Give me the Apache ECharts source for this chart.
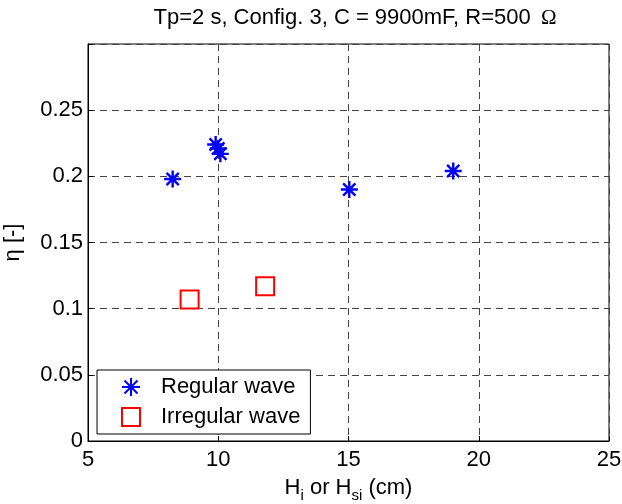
<!DOCTYPE html>
<html>
<head>
<meta charset="utf-8">
<script src="https://cdn.jsdelivr.net/npm/echarts@6/dist/echarts.min.js"></script>
<style>html,body{margin:0;padding:0;background:#fff}#c{width:622px;height:504px}</style>
</head>
<body>
<div id="c"></div>
<script>
const titleMain = 'Tp=2 s, Config. 3, C = 9900mF, R=500 ';
const titleUnit = 'Ω';
const seriesNames = ['Regular wave', 'Irregular wave'];
const regularX = [8.25, 9.9, 10.0, 10.08, 15.03, 19.02];
const regularY = [0.198, 0.224, 0.221, 0.217, 0.190, 0.204];
const irregularX = [8.9, 11.8];
const irregularY = [0.107, 0.117];
const xTicks = [5, 10, 15, 20, 25];
const yTicks = [0, 0.05, 0.1, 0.15, 0.2, 0.25];

const FONT = '"Liberation Sans", Arial, sans-serif';
const FS = 22;
const chart = echarts.init(document.getElementById('c'), null, {renderer: 'canvas'});
const star = 'path://M0,-1L0,1M-1,0L1,0M-0.72,-0.72L0.72,0.72M-0.72,0.72L0.72,-0.72';

chart.setOption({
  animation: false,
  backgroundColor: '#fff',
  textStyle: {fontFamily: FONT},
  title: {
    text: '{t|' + titleMain + '}{o|' + titleUnit + '}',
    left: 350, top: 2, textAlign: 'center',
    textStyle: {fontSize: 22, fontWeight: 'normal', color: '#000', fontFamily: FONT,
      rich: {
        t: {fontSize: 22, color: '#000', fontFamily: FONT},
        o: {fontSize: 21, color: '#000', fontFamily: '"Liberation Serif", "DejaVu Serif", serif', padding: [0, 0, 0, 4]}
      }}
  },
  grid: {left: 88, right: 13, top: 44, bottom: 63, outerBoundsMode: 'none', containLabel: false,
    show: true, borderColor: '#000', borderWidth: 1, backgroundColor: 'transparent'},
  legend: {
    orient: 'vertical', left: 97, top: 370,
    padding: [5, 10, 5, 24],
    itemWidth: 18, itemHeight: 18, itemGap: 6,
    borderColor: '#000', borderWidth: 1, backgroundColor: '#fff',
    data: seriesNames,
    formatter: n => '{a|' + n + '}',
    textStyle: {fontSize: FS, color: '#000', fontFamily: FONT, lineHeight: 24,
      rich: {a: {fontSize: FS, fontFamily: FONT, color: '#000', lineHeight: 24, padding: [0, 0, 0, 16]}}}
  },
  xAxis: {
    type: 'value', min: 5, max: 25, interval: 5,
    name: '{n|H}{s|i}{n| or H}{s|si}{n| (cm)}',
    nameLocation: 'middle', nameGap: 31,
    nameTextStyle: {rich: {
      n: {fontSize: FS, color: '#000', fontFamily: FONT},
      s: {fontSize: 15, color: '#000', fontFamily: FONT, verticalAlign: 'bottom', padding: [16, 0, 0, 0]}
    }},
    axisLine: {show: true, lineStyle: {color: '#000', width: 1}},
    axisTick: {show: true, inside: true, length: 5, lineStyle: {color: '#000'}},
    axisLabel: {fontSize: FS, color: '#000', margin: 8, fontFamily: FONT,
      formatter: v => xTicks.includes(v) ? String(v) : ''},
    splitLine: {show: true, lineStyle: {color: '#444', type: [7, 5], width: 1}}
  },
  yAxis: {
    type: 'value', min: 0, max: 0.3, interval: 0.05,
    name: 'η [-]', nameLocation: 'middle', nameGap: 64, nameRotate: 90,
    nameTextStyle: {fontSize: FS, color: '#000', fontFamily: FONT},
    axisLine: {show: true, lineStyle: {color: '#000', width: 1}},
    axisTick: {show: true, inside: true, length: 5, lineStyle: {color: '#000'}},
    axisLabel: {fontSize: FS, color: '#000', margin: 5, fontFamily: FONT,
      formatter: v => { const t = yTicks.find(k => Math.abs(k - v) < 1e-9); return t === undefined ? '' : String(t); }},
    splitLine: {show: true, lineStyle: {color: '#444', type: [7, 5], width: 1}}
  },
  series: [
    {
      name: seriesNames[0], type: 'scatter',
      data: regularX.map((x, i) => [x, regularY[i]]),
      symbol: star, symbolSize: 17, symbolKeepAspect: true,
      itemStyle: {color: '#0000ff', borderColor: '#0000ff', borderWidth: 2.4, opacity: 1},
      z: 5
    },
    {
      name: seriesNames[1], type: 'scatter',
      data: irregularX.map((x, i) => [x, irregularY[i]]),
      symbol: 'rect', symbolSize: 18,
      itemStyle: {color: 'rgba(0,0,0,0)', borderColor: '#ff0000', borderWidth: 2, opacity: 1},
      z: 5
    }
  ]
});
</script>
</body>
</html>
